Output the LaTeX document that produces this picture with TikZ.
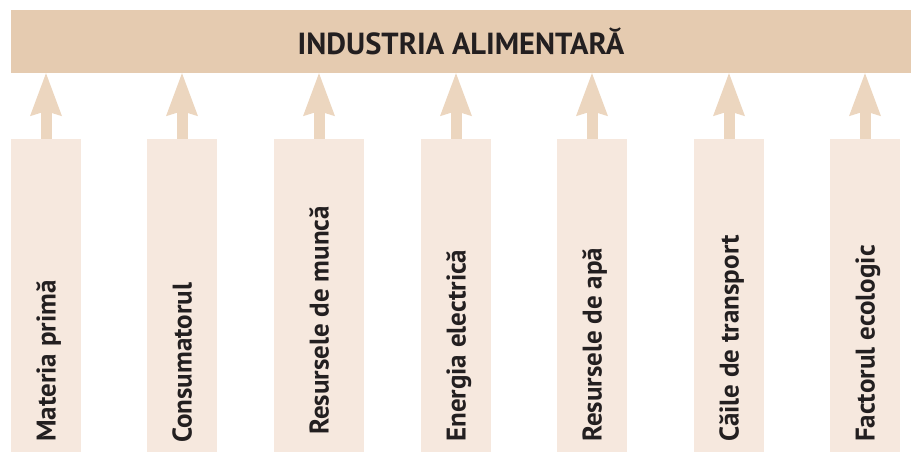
\documentclass[tikz,border=0pt]{standalone}
\usepackage{fontspec}
\setmainfont{PT Sans}
\usepackage{xcolor}
\usetikzlibrary{arrows.meta, positioning}
\definecolor{traka}{HTML}{E5CBB0}
\definecolor{stupac}{HTML}{F6E8DE}
\definecolor{strelica}{HTML}{ECD6BF}
\definecolor{slova}{HTML}{231F20}

\begin{document}
\begin{tikzpicture}[
  x=1pt, y=-1pt,
  naslov/.style={fill=traka, minimum width=900pt, minimum height=63pt,
                 inner sep=0pt, text=slova, font=\bfseries\fontsize{30.5}{32}\selectfont},
  stup/.style={fill=stupac, minimum height=313pt, inner sep=0pt},
  nat/.style={rotate=90, anchor=base west, inner sep=0pt, text=slova,
              font=\bfseries\fontsize{27}{29}\selectfont},
  sag/.style={draw=strelica, line width=11pt,
              -{Stealth[length=43pt, width=32pt, inset=5pt, line width=0pt, fill=strelica]}}
]
  \useasboundingbox (0,0) rectangle (911,452);

  \node[naslov] (ind) at (461,41.5) {INDUSTRIA ALIMENTARĂ};

  \foreach \x/\w/\t/\p [count=\i] in {46/70/Materia primă/442, 182/70/Consumatorul/443,
      319/90/Resursele de muncă/435, 456/70/Energia electrică/442,
      592/70/Resursele de apă/442, 729/70/Căile de transport/442,
      865/70/Factorul ecologic/442}
  {
    \node[stup, minimum width=\w pt] (f\i) at (\x,295.5) {};
    \node[nat] (n\i) at ([xshift=9.5pt]f\i.south |- 0,\p) {\t};
    \draw[sag] (f\i.north) -- (f\i.north |- ind.south);
  }
\end{tikzpicture}
\end{document}
